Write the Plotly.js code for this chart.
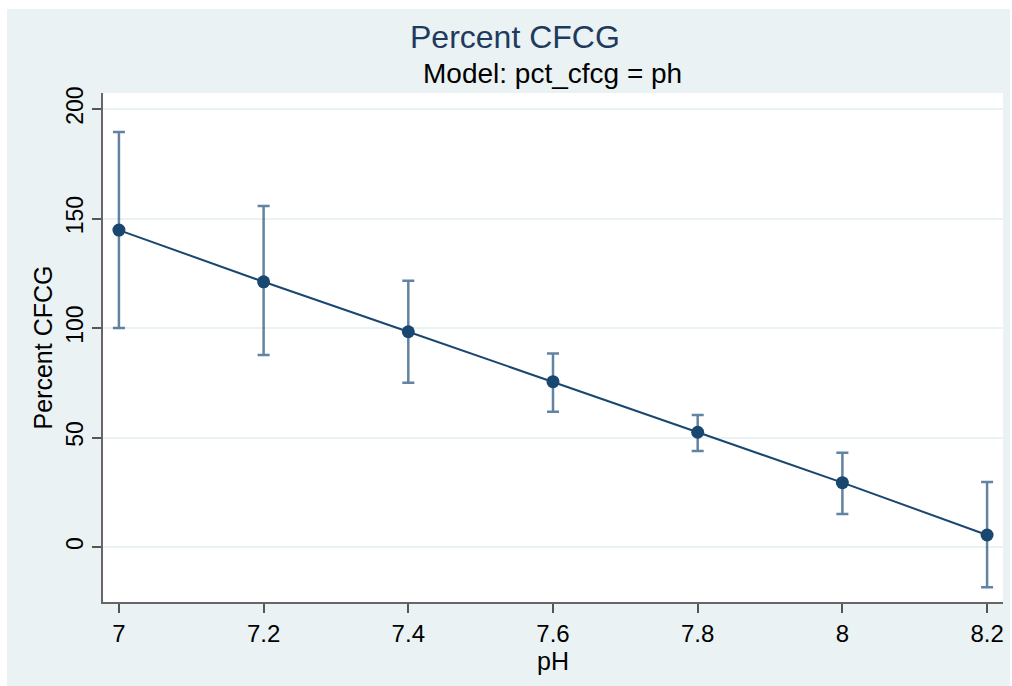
<!DOCTYPE html>
<html>
<head>
<meta charset="utf-8">
<script src="https://cdn.plot.ly/plotly-3.0.1.min.js"></script>
<style>html,body{margin:0;padding:0;background:#fff;}#chart{width:1012px;height:686px;}</style>
</head>
<body>
<div id="chart"></div>
<script>
// Data
const ph = [7, 7.2, 7.4, 7.6, 7.8, 8, 8.2];
const pctCfcg = [144.7, 121.1, 98.3, 75.5, 52.4, 29.4, 5.5];
const ciUpper = [189.5, 155.7, 121.6, 88.4, 60.3, 43.1, 29.7];
const ciLower = [100.0, 87.7, 75.0, 61.8, 43.8, 15.1, -18.4];
const xTicks = [7, 7.2, 7.4, 7.6, 7.8, 8, 8.2];
const xTickText = ['7', '7.2', '7.4', '7.6', '7.8', '8', '8.2'];
const yTicks = [0, 50, 100, 150, 200];

const errPlus = ciUpper.map((u, i) => u - pctCfcg[i]);
const errMinus = ciLower.map((l, i) => pctCfcg[i] - l);

const navy = '#1A476F';
const bg = '#EAF2F3';
const font = 'Liberation Sans, Arial, sans-serif';

const trace = {
  x: ph,
  y: pctCfcg,
  type: 'scatter',
  mode: 'lines+markers',
  line: {color: navy, width: 2},
  marker: {color: navy, size: 13, symbol: 'circle'},
  error_y: {
    type: 'data', symmetric: false,
    array: errPlus, arrayminus: errMinus,
    color: 'rgba(45,90,130,0.75)', thickness: 2.5, width: 6
  },
  showlegend: false,
  hoverinfo: 'x+y'
};

const layout = {
  width: 1012, height: 686,
  margin: {l: 103, r: 9, t: 93, b: 84},
  paper_bgcolor: '#ffffff',
  plot_bgcolor: '#ffffff',
  font: {family: font, color: '#000'},
  title: {text: ''},
  shapes: [
    {type: 'rect', xref: 'paper', yref: 'paper', x0: -0.1067, x1: 1.0078, y0: -0.166, y1: 1.165,
     fillcolor: bg, line: {width: 0}, layer: 'below'},
    {type: 'rect', xref: 'paper', yref: 'paper', x0: 0, x1: 1, y0: 0, y1: 1,
     fillcolor: '#ffffff', line: {width: 0}, layer: 'below'}
  ],
  annotations: [
    {text: 'Percent CFCG', xref: 'paper', yref: 'paper', x: (515 - 103) / 900, y: (602 - 37) / 509,
     xanchor: 'center', yanchor: 'middle', showarrow: false,
     font: {family: font, size: 32, color: '#1E3A5F'}},
    {text: 'Model: pct_cfcg = ph', xref: 'paper', yref: 'paper', x: (552 - 103) / 900, y: (602 - 73) / 509,
     xanchor: 'center', yanchor: 'middle', showarrow: false,
     font: {family: font, size: 28, color: '#000'}}
  ],
  xaxis: {
    range: [6.978, 8.222],
    tickmode: 'array', tickvals: xTicks, ticktext: xTickText,
    ticks: 'outside', ticklen: 9, tickwidth: 2, tickcolor: '#555',
    showline: true, linecolor: '#666', linewidth: 2,
    showgrid: false, zeroline: false,
    tickfont: {family: font, size: 24, color: '#000'},
    title: {text: 'pH', font: {family: font, size: 25, color: '#000'}, standoff: 2}
  },
  yaxis: {
    range: [-25.1, 207.3],
    tickmode: 'array', tickvals: yTicks,
    ticks: 'outside', ticklen: 9, tickwidth: 2, tickcolor: '#555',
    tickangle: -90,
    showline: true, linecolor: '#666', linewidth: 2,
    showgrid: true, gridcolor: bg, gridwidth: 2, zeroline: false,
    tickfont: {family: font, size: 23, color: '#000'},
    title: {text: 'Percent CFCG', font: {family: font, size: 25, color: '#000'}, standoff: 2}
  }
};

Plotly.newPlot('chart', [trace], layout, {displayModeBar: false, staticPlot: true});
</script>
</body>
</html>
